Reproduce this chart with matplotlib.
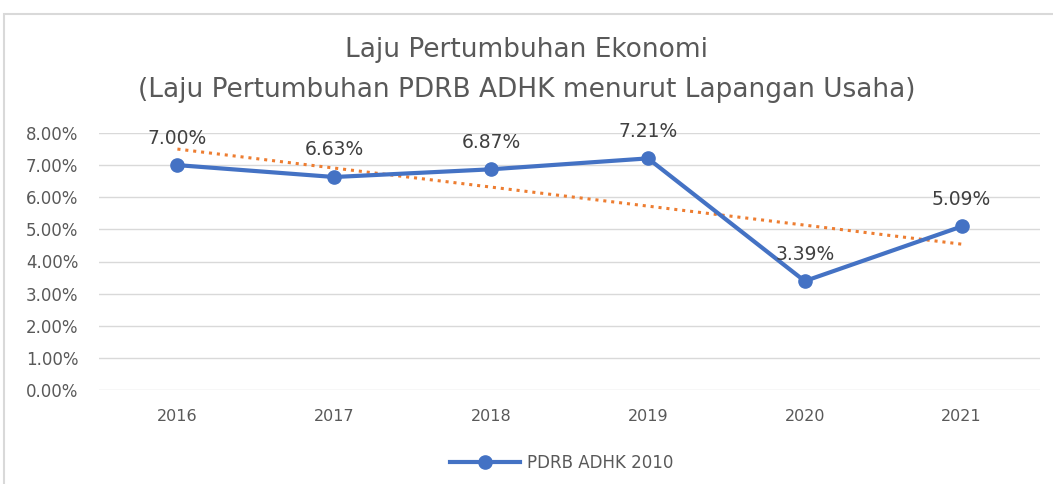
import matplotlib.pyplot as plt
from matplotlib.patches import Rectangle

years = ["2016", "2017", "2018", "2019", "2020", "2021"]
growth = [7.00, 6.63, 6.87, 7.21, 3.39, 5.09]
labels = ["7.00%", "6.63%", "6.87%", "7.21%", "3.39%", "5.09%"]
# dotted trendline ends
trend_ends = [7.50, 4.54]

plt.rcParams['font.family'] = ['DejaVu Sans']

fig = plt.figure(figsize=(10.53, 4.84), dpi=100)
ax = fig.add_axes([99 / 1053, 1 - 390 / 484, (1040 - 99) / 1053, (390 - 133) / 484])

x = list(range(len(years)))
ax.plot([x[0], x[-1]], trend_ends, color='#ED7D31', lw=2.2, ls=(0, (1, 1.6)), zorder=2)
ax.plot(x, growth, color='#4472C4', lw=3, marker='o', ms=9.5, zorder=3,
        label='PDRB ADHK 2010')

for xi, yi, lab in zip(x, growth, labels):
    ax.annotate(lab, (xi, yi), xytext=(0, 19.5), textcoords='offset points',
                ha='center', va='center', fontsize=13.5, color='#404040')

ax.set_xlim(-0.5, len(years) - 0.5)
ax.set_ylim(0, 8)
ax.set_yticks(range(0, 9))
ax.set_yticklabels([f"{v:.2f}%" for v in range(0, 9)])
ax.set_xticks(x)
ax.set_xticklabels(years)
ax.grid(axis='y', color='#D9D9D9', lw=1)
ax.set_axisbelow(True)
for s in ax.spines.values():
    s.set_visible(False)
ax.tick_params(length=0, labelsize=12, colors='#595959', pad=15)
ax.tick_params(axis='x', pad=14, labelsize=11.5)

fig.text(0.5, 1 - 50 / 484, "Laju Pertumbuhan Ekonomi", ha='center', va='center',
         fontsize=19, color='#595959')
fig.text(0.5, 1 - 90 / 484, "(Laju Pertumbuhan PDRB ADHK menurut Lapangan Usaha)",
         ha='center', va='center', fontsize=19, color='#595959')

fig.legend(loc='center', bbox_to_anchor=(562 / 1053, 1 - 463 / 484), frameon=False,
           fontsize=12, labelcolor='#595959', handlelength=4.2, handletextpad=0.4)

fig.patches.append(Rectangle((4 / 1053, -0.01), 1.1, 1 - 14 / 484 + 0.01,
                             transform=fig.transFigure, fill=False,
                             edgecolor='#D9D9D9', lw=1.5))

fig.savefig("out.png", dpi=100)
